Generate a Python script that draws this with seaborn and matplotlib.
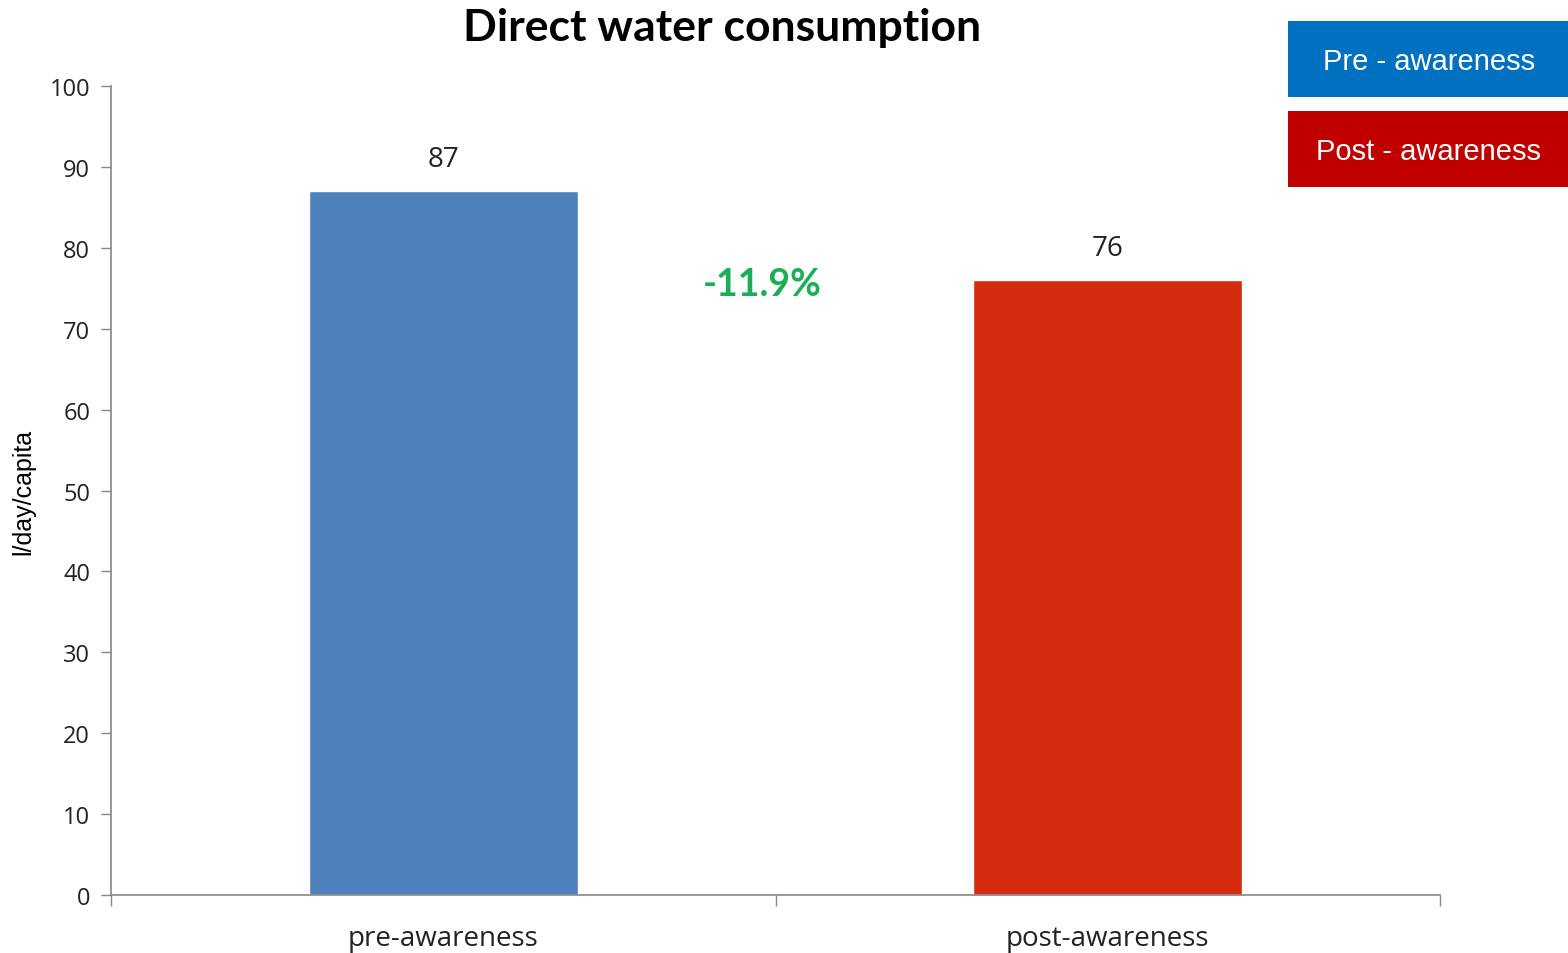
import matplotlib
matplotlib.use("Agg")
import matplotlib.pyplot as plt
import seaborn as sns
import pandas as pd

# Data
categories = ["pre-awareness", "post-awareness"]
consumption = [87, 76]
change_label = "-11.9%"
legend_labels = ["Pre - awareness", "Post - awareness"]
y_ticks = [0, 10, 20, 30, 40, 50, 60, 70, 80, 90, 100]

bar_colors = ["#4F81BD", "#D52B0F"]
box_colors = ["#0070C0", "#C00000"]

sns.set_theme(style="white")
plt.rcParams["font.family"] = ["Open Sans", "DejaVu Sans"]

df = pd.DataFrame({"phase": categories, "value": consumption})

fig = plt.figure(figsize=(15.68, 9.54), dpi=100)
ax = fig.add_axes([0.0708, 0.0608, 0.8476, 0.848])

sns.barplot(data=df, x="phase", y="value", hue="phase", palette=bar_colors,
            width=0.405, legend=False, ax=ax, saturation=1)

ax.set_xlim(-0.5, 1.5)
ax.set_ylim(0, 100)
ax.set_yticks(y_ticks)
ax.tick_params(axis="y", labelsize=17, length=7, width=1, color="#888888",
               direction="out", left=True, pad=8, labelcolor="#222222")
ax.tick_params(axis="x", which="major", labelsize=20, length=0, pad=21,
               labelcolor="#222222")
ax.set_xticks([-0.5, 0.5, 1.5], minor=True)
ax.tick_params(axis="x", which="minor", length=8, width=1, color="#888888",
               direction="out", bottom=True)

for side in ["top", "right"]:
    ax.spines[side].set_visible(False)
for side in ["left", "bottom"]:
    ax.spines[side].set_color("#888888")
    ax.spines[side].set_linewidth(1.2)

ax.set_xlabel("")
ax.set_ylabel("l/day/capita", fontsize=18, fontweight="normal",
              color="#000000", labelpad=10,
              family=["Liberation Sans", "DejaVu Sans"])

# value labels above bars
for i, v in enumerate(consumption):
    ax.text(i, v + 4.0, f"{v}", ha="center", va="center", fontsize=20,
            color="#222222")

# percentage change between the bars
ax.text(0.48, 75.5, change_label, ha="center", va="center", fontsize=27,
        fontweight="bold", color="#1BAE55",
        family=["Lato", "DejaVu Sans"])

fig.text(0.4605, 0.971, "Direct water consumption", ha="center", va="center",
         fontsize=32, fontweight="bold", color="#000000",
         family=["Lato", "DejaVu Sans"])

# coloured legend boxes at top right
box_specs = [(0.8214, 0.8973), (0.8214, 0.8030)]
for (x0, y0), label, col in zip(box_specs, legend_labels, box_colors):
    rect = plt.Rectangle((x0, y0), 1 - x0, 0.0797, transform=fig.transFigure,
                         facecolor=col, edgecolor="none")
    fig.add_artist(rect)
    fig.text(x0 + (1 - x0) / 2 + 0.0005, y0 + 0.0797 / 2 - 0.002, label,
             ha="center", va="center", fontsize=21, color="white",
             family=["Liberation Sans", "DejaVu Sans"])

fig.savefig("out.png", dpi=100)
